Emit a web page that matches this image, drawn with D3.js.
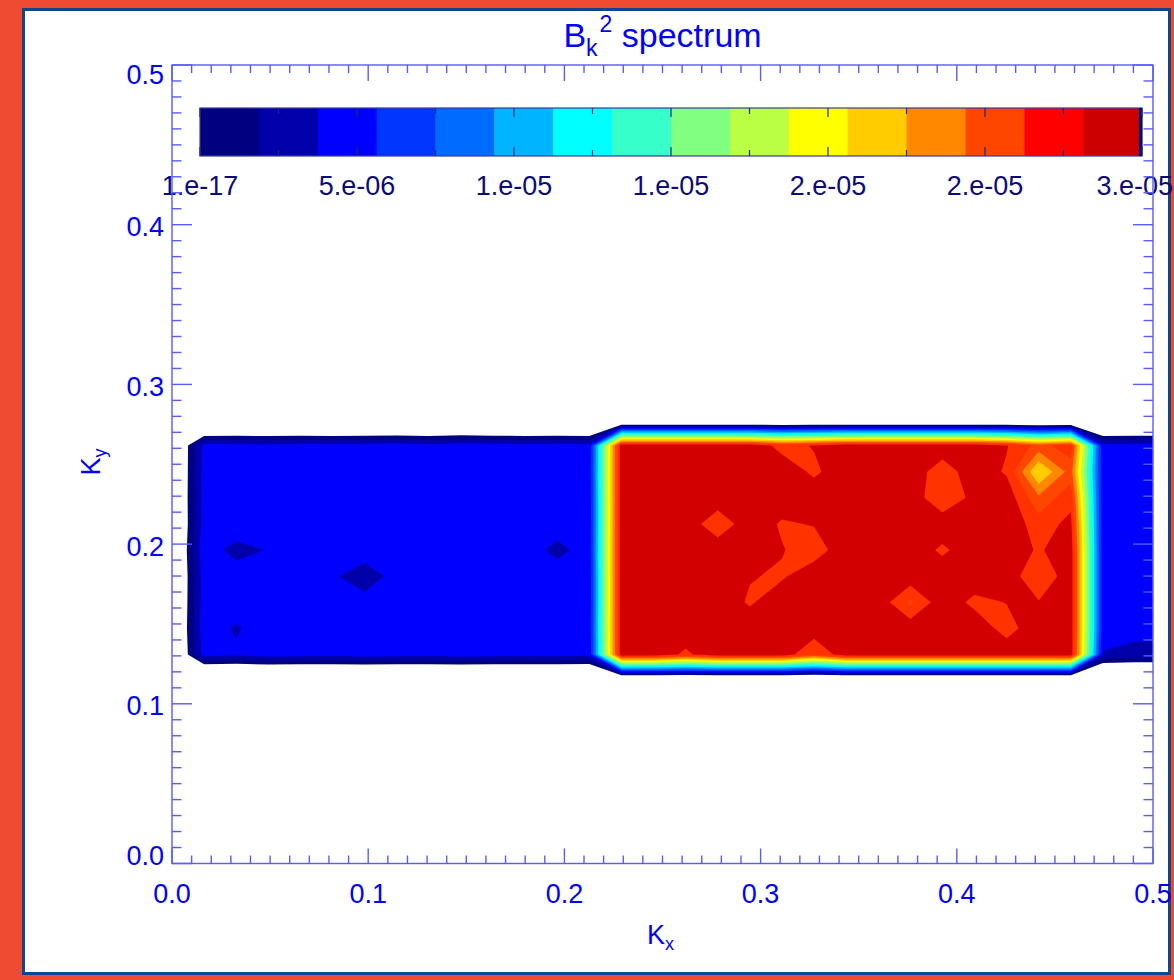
<!DOCTYPE html>
<html>
<head>
<meta charset="utf-8">
<script src="https://cdn.jsdelivr.net/npm/d3@7"></script>
<style>
  html, body { margin: 0; padding: 0; background: #EE4B32; }
  svg { display: block; }
  text { font-family: "Liberation Sans", Arial, Helvetica, sans-serif; }
</style>
</head>
<body>
<svg id="chart" width="1174" height="980"></svg>
<script>
// ---------------- data ----------------
// grid wavenumbers (columns = kx, rows = ky)
const kxGrid = [0.0000, 0.0164, 0.0327, 0.0491, 0.0654, 0.0818, 0.0982, 0.1145,
                0.1309, 0.1472, 0.1636, 0.1800, 0.1963, 0.2127, 0.2290, 0.2454,
                0.2618, 0.2781, 0.2945, 0.3108, 0.3272, 0.3436, 0.3599, 0.3763,
                0.3926, 0.4090, 0.4254, 0.4417, 0.4581, 0.4744, 0.4908, 0.5072];
const kyGrid = [0.1145, 0.1309, 0.1472, 0.1636, 0.1800, 0.1963, 0.2127, 0.2290,
                0.2454, 0.2618, 0.2781];
// B_k^2 power, units of 1e-6, one row per kyGrid entry
const power = [
  [0,0,0,0,0,0,0,0,0,0,0,0,0,0,0,0,0,0,0,0,0,0,0,0,0,0,0,0,0,0,0,0],
  [2.5,9.6,9.3,9.7,9.6,9.5,9.7,9.6,9.5,9.7,9.6,9.5,9.6,9.4, 29.5,29.5,28.2,29.5,29.5,29.5,27.0,29.5,29.5,29.5,29.5,29.5,29.5,29.5,29.5, 8.9,8.5,8.5],
  [2.5,10.0,8.8,10.0,9.7,9.6,9.5,9.6,9.7,9.5,9.6,9.7,9.5,9.6, 29.5,29.5,29.5,29.5,29.5,29.5,29.5,29.5,29.5,29.5,29.5,29.5,27.9,29.5,29.5, 9.6,9.5,9.5],
  [2.5,9.8,9.9,9.6,9.5,9.7,9.67,9.6,9.5,9.7,9.6,9.4,9.7,9.5, 29.5,29.5,29.5,29.5,28.3,29.5,29.5,29.5,29.5,26.7,29.5,28.1,28.55,28.6,29.5, 9.6,9.5,9.6],
  [2.5,9.7,10.0,9.6,9.7,9.25,8.0,9.67,9.5,9.6,9.7,9.5,9.7,9.5, 29.5,29.5,29.5,29.5,28.6,28.3,29.5,29.5,29.5,29.5,29.5,29.5,29.5,27.1,29.5, 9.6,9.5,9.5],
  [2.5,10.1,8.3,9.1,9.6,9.5,10.0,9.6,9.7,9.5,9.6,9.7,8.6,9.6, 29.5,29.5,29.5,29.5,29.5,28.6,27.7,29.5,29.5,29.5,28.2,29.5,29.5,28.3,29.5, 9.6,9.7,9.6],
  [2.5,9.6,10.4,9.5,9.7,9.6,9.5,9.7,9.6,9.5,9.7,9.6,9.7,9.5, 29.5,29.5,29.5,27.4,29.5,28.3,28.6,29.5,29.5,29.5,29.5,29.5,29.5,27.8,28.9, 9.6,9.6,9.6],
  [2.5,9.7,9.5,9.6,9.7,9.5,9.6,9.7,9.5,9.6,9.7,9.5,9.6,9.5, 29.5,29.5,29.5,29.5,29.5,29.5,29.5,29.5,29.5,29.5,27.2,29.0,29.5,25.8,28.0, 9.6,9.5,9.6],
  [2.5,9.6,9.7,9.5,9.6,9.7,9.5,9.6,9.7,9.5,9.6,9.7,9.5,9.6, 29.5,29.5,29.5,29.5,29.5,29.5,28.2,29.5,29.5,29.5,27.6,29.5,28.3,22.4,26.2, 9.6,9.6,9.5],
  [2.5,9.5,9.6,9.4,9.6,9.5,9.6,9.7,9.5,9.8,9.6,9.5,9.6,9.5, 29.5,29.5,29.5,29.5,29.5,28.0,28.6,29.5,29.5,29.5,29.5,29.5,28.6,26.5,27.8, 9.5,9.6,9.6],
  [0,0,0,0,0,0,0,0,0,0,0,0,0,0,0,0,0,0,0,0,0,0,0,0,0,0,0,0,0,0,0,0]
];
// contour levels (units of 1e-6)
const levels = [6.0, 7.5, 9.0, 10.5, 12.0, 13.5, 15.0, 16.5, 18.0, 19.5, 21.0, 22.5, 24.0, 25.5, 27.0, 28.5];
const barColors = ["#000080", "#0000AA", "#0000FF", "#0036FF", "#006CFF", "#00B4FF", "#00FFFF", "#36FFCA",
                   "#80FF80", "#BAFF44", "#FFFF00", "#FFCC00", "#FF8800", "#FF4600", "#FF0000", "#CC0000"];
const fillColors = ["#000080", "#0000AA", "#0000FF", "#0036FF", "#006CFF", "#00B4FF", "#00FFFF", "#36FFCA",
                    "#80FF80", "#BAFF44", "#FFFF00", "#FFCC00", "#FF8800", "#FF4600", "#FF3200", "#D20000"];
const barLabels = ["1.e-17", "5.e-06", "1.e-05", "1.e-05", "2.e-05", "2.e-05", "3.e-05"];
const xTickLabels = ["0.0", "0.1", "0.2", "0.3", "0.4", "0.5"];
const yTickLabels = ["0.0", "0.1", "0.2", "0.3", "0.4", "0.5"];
const xMajor = [0, 0.1, 0.2, 0.3, 0.4, 0.5];
const yMajor = [0, 0.1, 0.2, 0.3, 0.4, 0.5];

// ---------------- layout ----------------
const W = 1174, H = 980;
const plot = { left: 172, right: 1153, top: 65, bottom: 863.5 };
const axisColor = "#5a5aff";
const labelColor = "#0000ff";
const barLabelColor = "#0c0c78";

const svg = d3.select("#chart");
svg.append("rect").attr("x", 0).attr("y", 0).attr("width", W).attr("height", H).attr("fill", "#EE4B32");
svg.append("rect").attr("x", 23.5).attr("y", 9.5).attr("width", 1146).attr("height", 964)
   .attr("fill", "#ffffff").attr("stroke", "#0B478A").attr("stroke-width", 3);

const x = d3.scaleLinear().domain([0, 0.5]).range([plot.left, plot.right]);
const y = d3.scaleLinear().domain([0, 0.5]).range([plot.bottom, plot.top]);

// clip
svg.append("defs").append("clipPath").attr("id", "plotclip")
   .append("rect").attr("x", plot.left).attr("y", plot.top)
   .attr("width", plot.right - plot.left).attr("height", plot.bottom - plot.top);

// ---------------- filled contours ----------------
const nx = kxGrid.length, ny = kyGrid.length;
const flat = power.flat();
const contours = d3.contours().size([nx, ny]).smooth(true).thresholds(levels)(flat);
const ix = d3.scaleLinear().domain([0.5, nx - 0.5]).range([kxGrid[0], kxGrid[nx - 1]]);
const iy = d3.scaleLinear().domain([0.5, ny - 0.5]).range([kyGrid[0], kyGrid[ny - 1]]);
const proj = d3.geoTransform({
  point: function (px, py) { this.stream.point(x(ix(px)), y(iy(py))); }
});
const path = d3.geoPath(proj);

svg.append("g").attr("clip-path", "url(#plotclip)")
  .selectAll("path").data(contours).join("path")
  .attr("d", path)
  .attr("fill", (d, i) => fillColors[i])
  .attr("stroke", "none");

// ---------------- colorbar ----------------
const bar = { left: 200, right: 1142, top: 108, bottom: 156 };
const bx = d3.scaleLinear().domain([0, barColors.length]).range([bar.left, bar.right]);
const gBar = svg.append("g");
gBar.selectAll("rect.cell").data(barColors).join("rect")
  .attr("class", "cell")
  .attr("x", (d, i) => bx(i)).attr("y", bar.top)
  .attr("width", (d, i) => bx(i + 1) - bx(i) + 0.4).attr("height", bar.bottom - bar.top)
  .attr("fill", d => d);
gBar.append("rect").attr("x", bar.left).attr("y", bar.top)
  .attr("width", bar.right - bar.left).attr("height", bar.bottom - bar.top)
  .attr("fill", "none").attr("stroke", "#3a3aa0").attr("stroke-width", 1.2);
gBar.append("rect").attr("x", bar.right - 3).attr("y", bar.top)
  .attr("width", 3).attr("height", bar.bottom - bar.top).attr("fill", "#000070");
const bt = d3.scaleLinear().domain([0, 12]).range([bar.left, bar.right]);
const barTicks = d3.range(13);
gBar.selectAll("line.btt").data(barTicks).join("line")
  .attr("x1", d => bt(d)).attr("x2", d => bt(d))
  .attr("y1", bar.top).attr("y2", d => bar.top + (d % 2 === 0 ? 9 : 6))
  .attr("stroke", "#1c2a78").attr("stroke-width", 1.2);
gBar.selectAll("line.btb").data(barTicks).join("line")
  .attr("x1", d => bt(d)).attr("x2", d => bt(d))
  .attr("y1", bar.bottom).attr("y2", d => bar.bottom - (d % 2 === 0 ? 9 : 6))
  .attr("stroke", "#1c2a78").attr("stroke-width", 1.2);
const bl = d3.scaleLinear().domain([0, barLabels.length - 1]).range([bar.left, bar.right]);
gBar.selectAll("text").data(barLabels).join("text")
  .attr("x", (d, i) => bl(i)).attr("y", 195)
  .attr("text-anchor", "middle").attr("font-size", 27)
  .attr("fill", barLabelColor).text(d => d)
  .each(function () {
    // keep the last label inside the page
    const bb = this.getBBox();
    if (bb.x + bb.width > W - 1) {
      d3.select(this).attr("x", +d3.select(this).attr("x") - (bb.x + bb.width - (W - 1)));
    }
  });

// ---------------- axes ----------------
const gAx = svg.append("g").attr("stroke", axisColor).attr("stroke-width", 1.4);
gAx.append("rect").attr("x", plot.left).attr("y", plot.top)
  .attr("width", plot.right - plot.left).attr("height", plot.bottom - plot.top).attr("fill", "none");
const isMajor = v => Math.abs(v * 10 - Math.round(v * 10)) < 1e-6;
const xt = x.ticks(50), yt = y.ticks(50);
// bottom & top
gAx.selectAll("line.xb").data(xt).join("line")
  .attr("x1", d => x(d)).attr("x2", d => x(d))
  .attr("y1", plot.bottom).attr("y2", d => plot.bottom - (isMajor(d) ? 15 : 8));
gAx.selectAll("line.xtp").data(xt).join("line")
  .attr("x1", d => x(d)).attr("x2", d => x(d))
  .attr("y1", plot.top).attr("y2", d => plot.top + (isMajor(d) ? 16 : 8));
// left & right
gAx.selectAll("line.yl").data(yt).join("line")
  .attr("x1", plot.left).attr("x2", d => plot.left + (isMajor(d) ? 20 : 9.5))
  .attr("y1", d => y(d)).attr("y2", d => y(d));
gAx.selectAll("line.yr").data(yt).join("line")
  .attr("x1", plot.right).attr("x2", d => plot.right - (isMajor(d) ? 20 : 9.5))
  .attr("y1", d => y(d)).attr("y2", d => y(d));

// tick labels
svg.append("g").selectAll("text").data(xMajor).join("text")
  .attr("x", d => x(d)).attr("y", 903)
  .attr("text-anchor", "middle").attr("font-size", 27).attr("fill", labelColor)
  .text((d, i) => xTickLabels[i]);
svg.append("g").selectAll("text").data(yMajor).join("text")
  .attr("x", 164).attr("y", d => Math.min(865, Math.max(84, y(d) + 11.5)))
  .attr("text-anchor", "end").attr("font-size", 27).attr("fill", labelColor)
  .text((d, i) => yTickLabels[i]);

// axis titles
const xl = svg.append("text").attr("x", (plot.left + plot.right) / 2 - 2).attr("y", 944)
  .attr("text-anchor", "middle").attr("font-size", 27).attr("fill", labelColor);
xl.append("tspan").text("K");
xl.append("tspan").attr("font-size", 18).attr("dy", 6).text("x");

const yl = svg.append("text").attr("transform", "translate(100,462) rotate(-90)")
  .attr("text-anchor", "middle").attr("font-size", 27).attr("fill", labelColor);
yl.append("tspan").text("K");
yl.append("tspan").attr("font-size", 18).attr("dy", 6).text("y");

// title
const tt = svg.append("text").attr("x", (plot.left + plot.right) / 2).attr("y", 47)
  .attr("text-anchor", "middle").attr("font-size", 34).attr("fill", labelColor);
tt.append("tspan").text("B");
tt.append("tspan").attr("font-size", 23).attr("dy", 9).text("k");
tt.append("tspan").attr("font-size", 23).attr("dx", 2).attr("dy", -24).text("2");
tt.append("tspan").attr("font-size", 34).attr("dy", 15).text(" spectrum");
</script>
</body>
</html>
